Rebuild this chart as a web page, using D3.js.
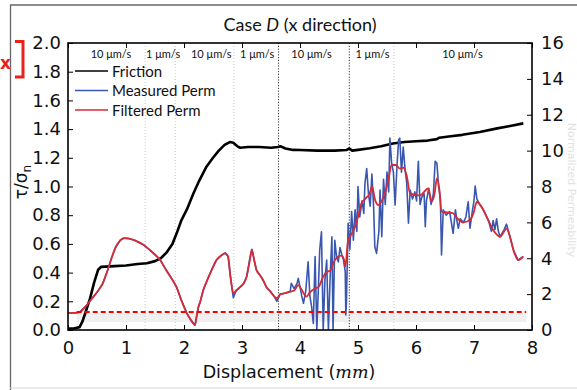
<!DOCTYPE html>
<html><head><meta charset="utf-8">
<script src="https://cdn.jsdelivr.net/npm/d3@7"></script>
<style>
html,body{margin:0;padding:0;background:#fff;}
svg{display:block;}
</style></head>
<body>
<svg id="chart" width="577" height="390"></svg>
<script>
// ---------------- DATA ----------------
const xTicks = [0,1,2,3,4,5,6,7,8];
const leftTicks = [0,0.2,0.4,0.6,0.8,1.0,1.2,1.4,1.6,1.8,2.0];
const rightTicks = [0,2,4,6,8,10,12,14,16];

const frictionX = [0,0.1,0.2,0.25,0.3,0.38,0.45,0.52,0.57,0.8,1.0,1.2,1.36,1.5,1.6,1.7,1.8,1.87,1.95,2.05,2.16,2.25,2.39,2.5,2.6,2.7,2.79,2.85,2.92,2.97,3.1,3.3,3.5,3.62,3.66,3.75,3.88,4.0,4.3,4.6,4.8,4.85,4.9,5.0,5.2,5.4,5.6,5.8,6.0,6.2,6.36,6.4,6.6,6.8,7.1,7.4,7.6,7.85];
const frictionY = [0.01,0.01,0.02,0.06,0.12,0.22,0.33,0.42,0.44,0.445,0.45,0.46,0.465,0.48,0.5,0.54,0.6,0.67,0.76,0.84,0.95,1.03,1.14,1.2,1.25,1.29,1.31,1.305,1.28,1.27,1.275,1.275,1.27,1.275,1.28,1.265,1.255,1.254,1.25,1.25,1.254,1.265,1.25,1.255,1.266,1.28,1.3,1.31,1.315,1.32,1.33,1.34,1.35,1.36,1.38,1.405,1.42,1.44];

const filteredX = [0,0.1,0.2,0.3,0.4,0.5,0.6,0.68,0.75,0.82,0.9,0.97,1.05,1.15,1.3,1.45,1.59,1.7,1.8,1.87,1.95,2.05,2.12,2.19,2.22,2.25,2.28,2.33,2.39,2.47,2.56,2.64,2.71,2.76,2.8,2.85,2.9,2.97,3.03,3.08,3.13,3.17,3.21,3.25,3.3,3.36,3.42,3.5,3.56,3.6,3.66,3.74,3.83,3.9,3.97,4.02,4.08,4.11,4.17,4.25,4.32,4.39,4.46,4.52,4.6,4.66,4.72,4.76,4.78,4.83,4.88,4.95,5.0,5.06,5.12,5.2,5.24,5.3,5.35,5.41,5.47,5.52,5.58,5.65,5.72,5.78,5.84,5.9,5.97,6.07,6.14,6.21,6.27,6.32,6.36,6.4,6.44,6.55,6.64,6.72,6.81,6.93,6.99,7.05,7.1,7.16,7.25,7.33,7.4,7.45,7.52,7.56,7.62,7.68,7.76,7.8,7.85];
const filteredY = [0.95,0.95,1.0,1.3,1.7,2.1,2.6,3.3,4.0,4.6,5.0,5.12,5.1,5.0,4.75,4.35,3.9,3.3,2.8,2.4,1.7,0.93,0.55,0.28,0.8,1.3,1.58,2.2,2.7,3.3,3.9,4.15,4.27,4.1,3.0,2.05,2.2,2.4,2.6,2.97,3.8,4.46,3.9,3.34,3.1,2.8,2.4,2.1,1.85,1.77,2.0,2.05,2.14,2.2,2.5,2.3,1.95,1.86,2.1,2.3,2.4,2.9,3.25,3.3,3.9,4.1,4.15,3.9,3.53,5.0,5.3,5.76,6.3,7.06,7.3,7.6,8.0,7.2,6.97,7.2,7.7,8.3,9.2,9.2,9.0,9.05,8.6,7.6,7.55,7.5,7.7,7.9,7.15,7.6,8.45,7.9,6.6,6.55,6.5,6.2,6.0,6.13,6.5,7.15,7.0,6.7,6.1,5.57,5.3,5.2,5.5,5.67,5.2,4.46,3.9,3.95,4.09];

const measuredX = [0,0.1,0.2,0.3,0.4,0.5,0.6,0.68,0.75,0.82,0.9,0.97,1.05,1.15,1.3,1.45,1.59,1.7,1.8,1.87,1.95,2.05,2.12,2.19,2.22,2.25,2.28,2.33,2.39,2.47,2.56,2.64,2.71,2.76,2.8,2.85,2.9,2.97,3.03,3.08,3.13,3.17,3.21,3.25,3.3,3.36,3.42,3.5,3.56,3.6,3.66,3.74,3.83,3.85,3.9,3.95,3.97,4.0,4.03,4.06,4.1,4.14,4.17,4.2,4.23,4.26,4.29,4.32,4.34,4.37,4.4,4.43,4.46,4.49,4.52,4.55,4.57,4.6,4.63,4.66,4.69,4.72,4.75,4.78,4.79,4.8,4.83,4.86,4.89,4.92,4.95,4.98,5.0,5.03,5.07,5.1,5.12,5.15,5.18,5.21,5.24,5.27,5.29,5.32,5.36,5.38,5.41,5.44,5.47,5.5,5.53,5.55,5.58,5.61,5.64,5.67,5.7,5.72,5.75,5.78,5.81,5.84,5.87,5.9,5.94,5.98,6.01,6.04,6.07,6.1,6.14,6.16,6.18,6.22,6.26,6.3,6.33,6.36,6.39,6.42,6.44,6.47,6.52,6.58,6.64,6.68,6.71,6.73,6.76,6.82,6.86,6.9,6.93,6.97,7.0,7.02,7.05,7.1,7.16,7.25,7.3,7.33,7.36,7.39,7.42,7.45,7.52,7.56,7.62,7.68,7.76,7.85];
const measuredY = [0.95,0.95,1.0,1.3,1.7,2.1,2.6,3.3,4.0,4.6,5.0,5.12,5.1,5.0,4.75,4.35,3.9,3.3,2.8,2.4,1.7,0.93,0.55,0.28,0.8,1.3,1.58,2.2,2.7,3.3,3.9,4.15,4.3,4.1,3.0,1.8,2.2,2.4,2.6,2.97,3.9,4.5,3.9,3.34,3.1,2.8,2.4,2.1,1.85,1.6,2.0,2.05,2.14,2.6,2.3,2.6,2.88,2.4,1.9,1.49,2.2,3.8,1.9,1.3,0.37,4.1,0,2.6,4.46,5.48,0,2.8,3.9,0,3.0,5.2,0,5.0,4.1,3.8,4.6,4.2,3.9,3.25,0.84,1.5,5.95,4.5,6.6,5.0,6.7,5.5,8.0,6.3,7.2,6.5,8.18,9.0,7.6,6.9,8.7,6.8,4.64,4.27,5.5,7.8,5.2,8.4,7.0,8.8,7.7,10.7,9.3,8.8,6.97,9.0,10.6,10.7,8.8,10.2,9.0,8.2,5.95,7.8,7.3,7.7,7.2,9.4,7.0,7.4,7.6,5.76,7.2,7.9,7.0,7.6,9.4,9.3,8.0,7.4,4.18,6.7,6.4,6.6,5.39,6.7,6.0,5.67,6.2,6.0,6.3,7.15,5.67,6.6,7.2,8.03,7.3,7.0,6.7,6.1,5.5,6.1,5.6,6.2,5.5,5.2,5.6,5.9,5.2,4.46,3.9,4.1];

const thresholdPerm = 1.0;
const rateChanges = [1.33,1.85,2.86,3.63,4.85,5.62];
const rateChangeDark = [false,false,false,true,true,false];
const rateLabels = ["10 μm/s","1 μm/s","10 μm/s","1 μm/s","10 μm/s","1 μm/s","10 μm/s"];
const rateLabelPos = [0.74,1.64,2.47,3.26,4.2,5.25,6.8];
const legendLabels = ["Friction","Measured Perm","Filtered Perm"];
const legendColors = ["#000000","#3a57b0","#d62a36"];

// ---------------- LAYOUT ----------------
const svg = d3.select("#chart");
const L=68, R=532, T=43, B=330;
const x = d3.scaleLinear().domain([0,8]).range([L,R]);
const yL = d3.scaleLinear().domain([0,2]).range([B,T]);
const yR = d3.scaleLinear().domain([0,16]).range([B,T]);

// frame of the figure
svg.append("line").attr("x1",10).attr("x2",577).attr("y1",5).attr("y2",5).attr("stroke","#666").attr("stroke-width",1.3);
svg.append("line").attr("x1",10.5).attr("x2",10.5).attr("y1",5).attr("y2",390).attr("stroke","#666").attr("stroke-width",1.3);
svg.append("line").attr("x1",10).attr("x2",577).attr("y1",388).attr("y2",388).attr("stroke","#d8d8d8").attr("stroke-width",1);

// clip
svg.append("clipPath").attr("id","plotclip").append("rect").attr("x",L).attr("y",T).attr("width",R-L).attr("height",B-T);
const plot = svg.append("g").attr("clip-path","url(#plotclip)");

// shadow below threshold line
plot.append("rect").attr("x",x(0.15)).attr("y",yR(thresholdPerm)+1).attr("width",x(7.9)-x(0.15)).attr("height",9).attr("fill","#ececec").attr("opacity",0.8);

// rate-change lines
rateChanges.forEach((v,i)=>{
  plot.append("line").attr("x1",x(v)).attr("x2",x(v)).attr("y1",T).attr("y2",B)
    .attr("stroke",rateChangeDark[i]?"#333":"#c8c8c8").attr("stroke-width",1)
    .attr("stroke-dasharray",rateChangeDark[i]?"1.2,1.6":"1,2");
});

// lines
const fr = d3.zip(frictionX,frictionY);
const ms = d3.zip(measuredX,measuredY);
const fl = d3.zip(filteredX,filteredY);
plot.append("path").datum(fr).attr("fill","none").attr("stroke","#000").attr("stroke-width",2.6).attr("stroke-linejoin","round")
  .attr("d",d3.line().x(d=>x(d[0])).y(d=>yL(d[1])));
plot.append("path").datum(ms).attr("fill","none").attr("stroke",legendColors[1]).attr("stroke-width",1.6).attr("stroke-linejoin","round")
  .attr("d",d3.line().x(d=>x(d[0])).y(d=>yR(d[1])));
plot.append("path").datum(fl).attr("fill","none").attr("stroke",legendColors[2]).attr("stroke-width",1.8).attr("stroke-linejoin","round")
  .attr("d",d3.line().curve(d3.curveMonotoneX).x(d=>x(d[0])).y(d=>yR(d[1])));

// threshold
svg.append("line").attr("x1",x(0.15)).attr("x2",x(7.9)).attr("y1",yR(thresholdPerm)).attr("y2",yR(thresholdPerm))
  .attr("stroke","#f00").attr("stroke-width",2).attr("stroke-dasharray","5,3");

// axes
const tickFont = "DejaVu Sans, sans-serif";
const axB = svg.append("g").attr("transform",`translate(0,${B})`).call(d3.axisBottom(x).tickValues(xTicks).tickFormat(d3.format("d")).tickSizeInner(-5).tickSizeOuter(0).tickPadding(9));
const axT = svg.append("g").attr("transform",`translate(0,${T})`).call(d3.axisTop(x).tickValues(xTicks).tickFormat("").tickSizeInner(-5).tickSizeOuter(0));
const axL = svg.append("g").attr("transform",`translate(${L},0)`).call(d3.axisLeft(yL).tickValues(leftTicks).tickFormat(d3.format(".1f")).tickSizeInner(-5).tickSizeOuter(0).tickPadding(7));
const axR = svg.append("g").attr("transform",`translate(${R},0)`).call(d3.axisRight(yR).tickValues(rightTicks).tickFormat(d3.format("d")).tickSizeInner(-5).tickSizeOuter(0).tickPadding(9));
[axB,axT,axL,axR].forEach(a=>{
  a.select(".domain").remove();
  a.selectAll(".tick line").attr("stroke","#000").attr("stroke-width",1);
  a.selectAll(".tick text").attr("font-family",tickFont).attr("font-size",18).attr("fill","#111");
});
axB.selectAll(".tick text").attr("dy","0.85em");
svg.append("rect").attr("x",L).attr("y",T).attr("width",R-L).attr("height",B-T).attr("fill","none").attr("stroke","#000").attr("stroke-width",1.6);

// rate labels
const lab = "Lato, Noto Sans, sans-serif";
rateLabels.forEach((t,i)=>{
  svg.append("text").attr("x",x(rateLabelPos[i])).attr("y",58).attr("text-anchor","middle")
    .attr("font-family",lab).attr("font-size",11).attr("fill","#111").text(t);
});

// legend
legendLabels.forEach((t,i)=>{
  const yy = 71 + i*19.5;
  svg.append("line").attr("x1",75).attr("x2",108).attr("y1",yy).attr("y2",yy).attr("stroke",legendColors[i]).attr("stroke-width",1.6);
  svg.append("text").attr("x",112).attr("y",yy+5.5).attr("font-family",lab).attr("font-size",15).attr("fill","#111").text(t);
});

// title
const title = svg.append("text").attr("x",300).attr("y",31).attr("text-anchor","middle").attr("font-family",lab).attr("font-size",18).attr("fill","#111");
title.append("tspan").text("Case ");
title.append("tspan").attr("font-style","italic").text("D");
title.append("tspan").text(" (x direction)");

// x label
const xl = svg.append("text").attr("x",289).attr("y",378).attr("text-anchor","middle").attr("font-family",tickFont).attr("font-size",17.5).attr("fill","#111");
xl.append("tspan").text("Displacement (");
xl.append("tspan").attr("font-family","DejaVu Serif, serif").attr("font-style","italic").text("mm");
xl.append("tspan").text(")");

// y label left
const yl = svg.append("text").attr("transform","translate(27,182) rotate(-90)").attr("text-anchor","middle").attr("font-family",tickFont).attr("font-size",17).attr("fill","#111");
yl.append("tspan").text("τ/σ");
yl.append("tspan").attr("font-size",12).attr("dy",4).text("n");

// right label, faint, at the picture edge
svg.append("text").attr("transform","translate(568,190) rotate(90)").attr("text-anchor","middle").attr("font-family",tickFont).attr("font-size",11).attr("fill","#e2e2e2").text("Normalized Permeability");

// red annotation at the top-left
svg.append("text").attr("x",0).attr("y",69).attr("font-family","DejaVu Sans, sans-serif").attr("font-weight","bold").attr("font-size",17).attr("fill","#e8231d").text("x");
svg.append("path").attr("d","M15,41.5 H23 V77 H15").attr("fill","none").attr("stroke","#e8231d").attr("stroke-width",3);
</script>
</body></html>
